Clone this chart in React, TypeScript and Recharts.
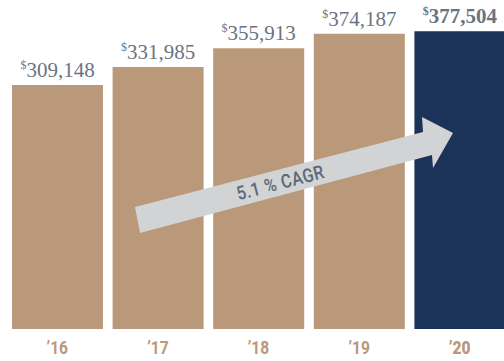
import { BarChart, Bar, XAxis, YAxis, Cell, LabelList } from "recharts";

const years = ["’16", "’17", "’18", "’19", "’20"];
const revenue = [309148, 331985, 355913, 374187, 377504];
const cagrLabel = "5.1 % CAGR";

const data = years.map((year, i) => ({ year, value: revenue[i] }));

const TAN = "#ba987a";
const NAVY = "#1b3259";
const LABEL = "#6a7480";
const NARROW = "Roboto, 'Liberation Sans', sans-serif";

function ValueLabel(props: any) {
  const { x, y, width, value, index } = props;
  const last = index === revenue.length - 1;
  return (
    <text
      x={x + width / 2}
      y={y - 8}
      textAnchor="middle"
      fill={LABEL}
      fontFamily="'Liberation Serif', serif"
      fontWeight={last ? 700 : 400}
    >
      <tspan fontSize={12} dy={-8}>$</tspan>
      <tspan fontSize={21} dy={8}>{Number(value).toLocaleString("en-US")}</tspan>
    </text>
  );
}

function YearTick(props: any) {
  const { x, y, payload, index } = props;
  const last = index === years.length - 1;
  return (
    <g transform={`translate(${x},${y + 17}) scale(0.82,1)`}>
      <text
        x={0}
        y={0}
        textAnchor="middle"
        fill={TAN}
        fontSize={19}
        fontWeight={last ? 900 : 700}
        fontFamily={NARROW}
      >
        {payload.value}
      </text>
    </g>
  );
}

function CagrArrow() {
  const pts = "135,207 423,132 422,117 453,133 433,168 432,155 140,233";
  return (
    <svg width={504} height={361} style={{ position: "absolute", left: 0, top: 0, pointerEvents: "none" }}>
      <polygon points={pts} fill="#d1d3d4" />
      <g transform="translate(282,189) rotate(-14.6) scale(0.85,1)">
        <text
          x={0}
          y={0}
          textAnchor="middle"
          fill="#5d6976"
          fontSize={19}
          fontWeight={500}
          letterSpacing={0.6}
          fontFamily={NARROW}
        >
          {cagrLabel}
        </text>
      </g>
    </svg>
  );
}

export default function App() {
  return (
    <div style={{ position: "absolute", left: 0, top: 0, width: 504, height: 361, overflow: "hidden", background: "#fff" }}>
      <BarChart width={510} height={361} data={data} margin={{ top: 0, right: 0, left: 7, bottom: 0 }}>
        <XAxis dataKey="year" axisLine={false} tickLine={false} height={32} tick={<YearTick />} interval={0} />
        <YAxis hide domain={[0, 417000]} />
        <Bar dataKey="value" barSize={91} isAnimationActive={false}>
          {data.map((d, i) => (
            <Cell key={d.year} fill={i === data.length - 1 ? NAVY : TAN} />
          ))}
          <LabelList dataKey="value" content={<ValueLabel />} />
        </Bar>
      </BarChart>
      <CagrArrow />
    </div>
  );
}
